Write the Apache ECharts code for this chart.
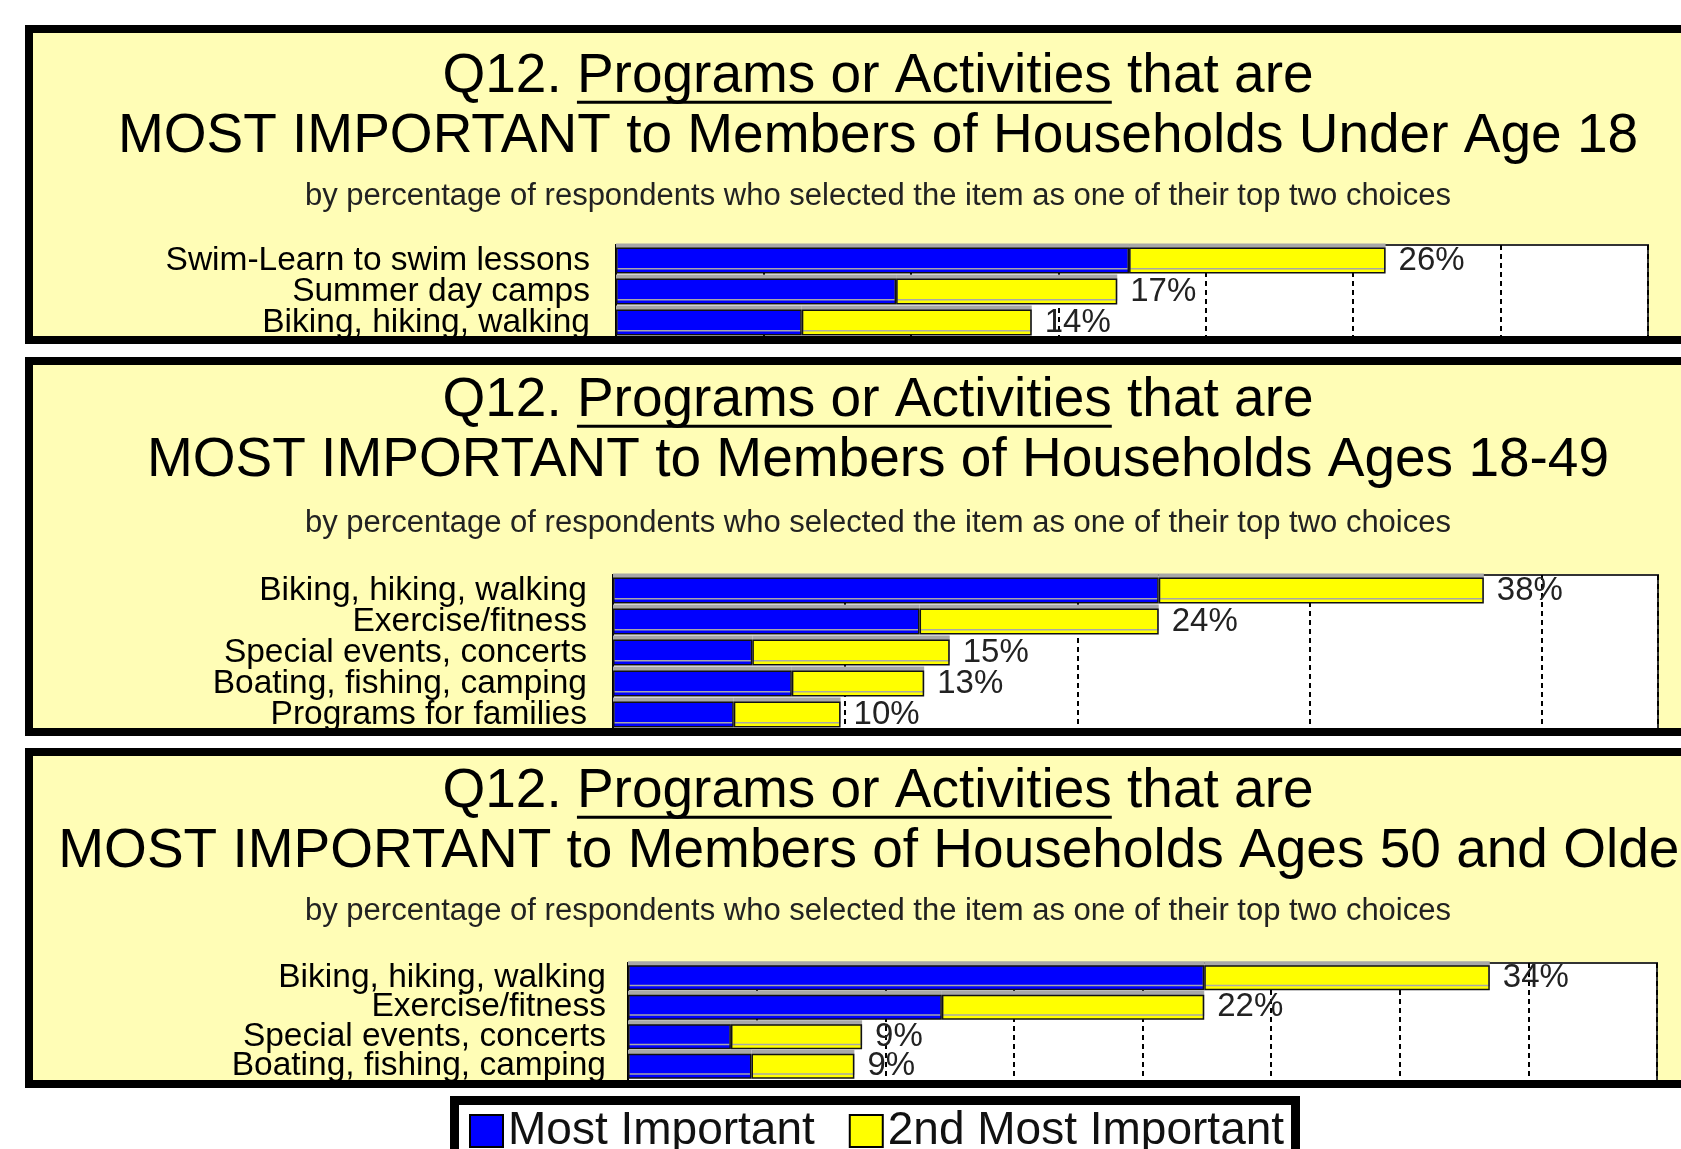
<!DOCTYPE html>
<html>
<head>
<meta charset="utf-8">
<title>Q12 Programs or Activities</title>
<script src="https://cdn.jsdelivr.net/npm/echarts@6/dist/echarts.min.js"></script>
<style>
    html, body { margin: 0; padding: 0; width: 1681px; height: 1149px; overflow: hidden; background: #fff; }
    .panel { position: absolute; left: 25px; width: 1800px; border: 8px solid #000; box-sizing: border-box; background: #fffdb6; z-index: 1; }
    .panel-cover { position: absolute; left: 25px; width: 1800px; border: 8px solid #000; box-sizing: border-box; z-index: 3; pointer-events: none; }
    .legend-box { position: absolute; left: 450px; top: 1096px; width: 850px; height: 90px; border: 9px solid #000; box-sizing: border-box; background: #fff; z-index: 1; }
    #chart { position: absolute; left: 0; top: 0; width: 1756px; height: 1149px; z-index: 2; }
</style>
</head>
<body>
<div class="panel" style="top:25px;height:319px"></div>
<div class="panel" style="top:357px;height:379px"></div>
<div class="panel" style="top:748px;height:340px"></div>
<div class="legend-box"></div>
<div id="chart"></div>
<div class="panel-cover" style="top:25px;height:319px"></div>
<div class="panel-cover" style="top:357px;height:379px"></div>
<div class="panel-cover" style="top:748px;height:340px"></div>
<script>
// Q12 - three age groups, stacked: most important + 2nd most important
const FONT = '"Liberation Sans", Arial, sans-serif';

const seriesNames = ['Most Important', '2nd Most Important'];

// Under age 18
const cats1 = ['Swim-Learn to swim lessons', 'Summer day camps', 'Biking, hiking, walking'];
const most1 = [17.4, 9.5, 6.3];
const second1 = [8.7, 7.5, 7.8];
const labels1 = ['26%', '17%', '14%'];

// Ages 18-49
const cats2 = ['Biking, hiking, walking', 'Exercise/fitness', 'Special events, concerts', 'Boating, fishing, camping', 'Programs for families'];
const most2 = [23.5, 13.2, 6.0, 7.7, 5.2];
const second2 = [14.0, 10.3, 8.5, 5.7, 4.6];
const labels2 = ['38%', '24%', '15%', '13%', '10%'];

// Ages 50 and older
const cats3 = ['Biking, hiking, walking', 'Exercise/fitness', 'Special events, concerts', 'Boating, fishing, camping'];
const most3 = [22.4, 12.2, 4.0, 4.8];
const second3 = [11.1, 10.2, 5.1, 4.0];
const labels3 = ['34%', '22%', '9%', '9%'];

const titleLine1 = 'Q12. Programs or Activities that are';
const underlined = 'Programs or Activities';
const titleLine2 = [
    'MOST IMPORTANT to Members of Households Under Age 18',
    'MOST IMPORTANT to Members of Households Ages 18-49',
    'MOST IMPORTANT to Members of Households Ages 50 and Older'
];
const subTitle = 'by percentage of respondents who selected the item as one of their top two choices';

const panels = [
    { cats: cats1, most: most1, second: second1, labels: labels1, max: 35, interval: 5,
      grid: { left: 616, top: 245, width: 1032, height: 93 }, titleTop: 47, gap: 14, barWidth: 26, margin: 26 },
    { cats: cats2, most: most2, second: second2, labels: labels2, max: 45, interval: 10,
      grid: { left: 613, top: 575, width: 1045, height: 155 }, titleTop: 371, gap: 17, barWidth: 26, margin: 26 },
    { cats: cats3, most: most3, second: second3, labels: labels3, max: 40, interval: 5,
      grid: { left: 628, top: 963, width: 1029, height: 118 }, titleTop: 762, gap: 14, barWidth: 25, margin: 22 }
];

const TITLE_SIZE = 55;
const LINE_H = 60;
const CENTER_X = 878;

function underlineFor(top) {
    const ctx = document.createElement('canvas').getContext('2d');
    ctx.font = TITLE_SIZE + 'px ' + FONT;
    const full = ctx.measureText(titleLine1).width;
    const x0 = CENTER_X - full / 2 + ctx.measureText('Q12. ').width;
    const x1 = x0 + ctx.measureText(underlined).width;
    const y = top + LINE_H / 2 + 0.35 * TITLE_SIZE + 6;
    return {
        type: 'line',
        shape: { x1: x0, y1: y, x2: x1, y2: y },
        style: { stroke: '#000', lineWidth: 3 }
    };
}

function buildOption() {
    const grids = [], xAxes = [], yAxes = [], series = [], titles = [], graphics = [];

    panels.forEach((p, i) => {
        grids.push(Object.assign({
            show: true,
            backgroundColor: '#fff',
            borderColor: '#333',
            borderWidth: 2
        }, p.grid));

        xAxes.push({
            gridIndex: i,
            type: 'value',
            min: 0,
            max: p.max,
            interval: p.interval,
            axisLabel: { show: false },
            axisTick: { show: false },
            axisLine: { show: false },
            splitLine: { show: true, lineStyle: { type: [5, 4], color: '#000', width: 2 } }
        });

        yAxes.push({
            gridIndex: i,
            type: 'category',
            data: p.cats,
            inverse: true,
            axisTick: { show: false },
            axisLine: { show: true, lineStyle: { color: '#000', width: 2 } },
            axisLabel: { interval: 0, fontSize: 33.5, color: '#000', margin: p.margin, fontFamily: FONT }
        });

        const barStyle = color => ({
            color: color,
            borderColor: '#111',
            borderWidth: 1.5,
            shadowColor: '#a8a8a8',
            shadowBlur: 0,
            shadowOffsetX: 0,
            shadowOffsetY: -4
        });

        series.push({
            name: seriesNames[0],
            type: 'bar',
            xAxisIndex: i,
            yAxisIndex: i,
            stack: 'total' + i,
            barWidth: p.barWidth,
            data: p.most,
            itemStyle: barStyle('#0000ff')
        });
        series.push({
            name: seriesNames[1],
            type: 'bar',
            xAxisIndex: i,
            yAxisIndex: i,
            stack: 'total' + i,
            barWidth: p.barWidth,
            data: p.second,
            itemStyle: barStyle('#ffff00'),
            label: {
                show: true,
                position: 'right',
                distance: 13,
                formatter: params => p.labels[params.dataIndex],
                fontSize: 33,
                color: '#222',
                fontFamily: FONT
            }
        });

        titles.push({
            text: titleLine1 + '\n' + titleLine2[i],
            subtext: subTitle,
            left: 'center',
            top: p.titleTop,
            padding: 0,
            itemGap: p.gap,
            textStyle: { fontSize: TITLE_SIZE, lineHeight: LINE_H, fontWeight: 'normal', color: '#000', fontFamily: FONT },
            subtextStyle: { fontSize: 31, lineHeight: 31, color: '#222', fontFamily: FONT }
        });

        graphics.push(underlineFor(p.titleTop));
    });

    return {
        animation: false,
        title: titles,
        grid: grids,
        xAxis: xAxes,
        yAxis: yAxes,
        series: series,
        graphic: graphics,
        legend: {
            data: seriesNames,
            left: 464,
            top: 1103,
            icon: 'rect',
            itemWidth: 33,
            itemHeight: 32,
            itemGap: 34,
            itemStyle: { borderColor: '#000', borderWidth: 2 },
            textStyle: { fontSize: 46, color: '#111', fontFamily: FONT }
        }
    };
}

function initChart() {
    const chart = echarts.init(document.getElementById('chart'));
    chart.setOption(buildOption());
}

document.addEventListener('DOMContentLoaded', initChart);
</script>
</body>
</html>
